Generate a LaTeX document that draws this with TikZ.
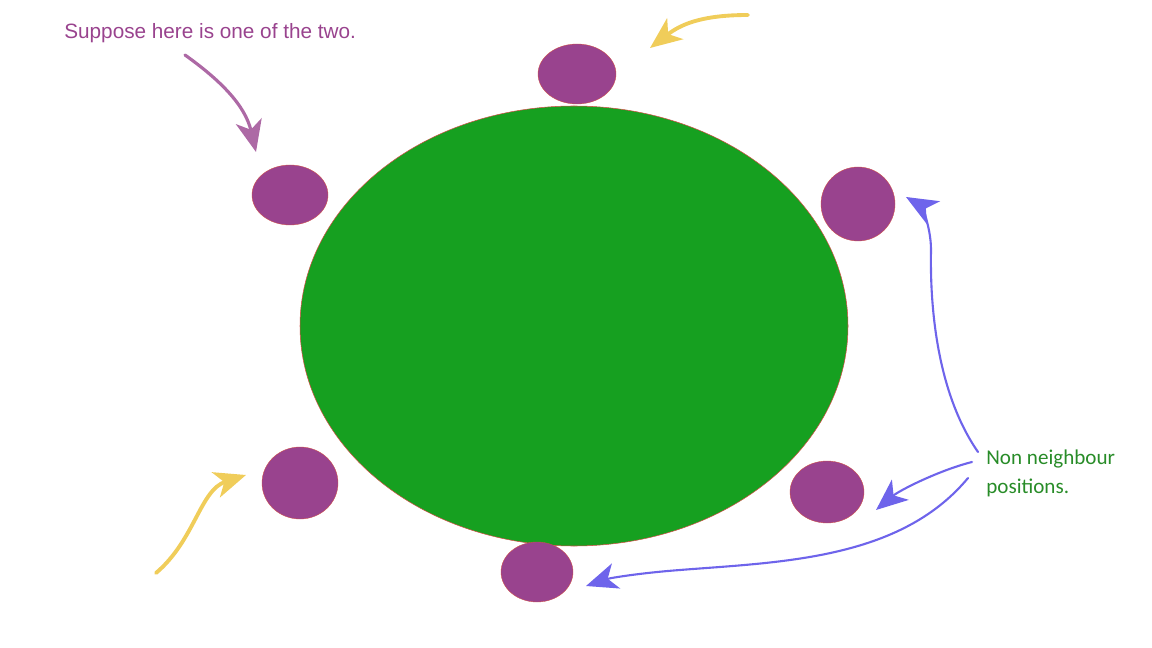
\documentclass[tikz,border=0pt]{standalone}
\usepackage{fontspec}
\setmainfont{Liberation Sans}
\newfontfamily\calib{Carlito}
\usetikzlibrary{arrows.meta,shapes.geometric}
\definecolor{seatpurple}{RGB}{153,67,142}
\definecolor{tablegreen}{RGB}{22,160,32}
\definecolor{edgered}{RGB}{210,80,70}
\definecolor{arrowyellow}{RGB}{240,205,90}
\definecolor{arrowblue}{RGB}{110,100,235}
\definecolor{textgreen}{RGB}{40,140,40}
\begin{document}
\begin{tikzpicture}[x=0.02cm,y=-0.02cm,
  seat/.style={ellipse, fill=seatpurple, draw=edgered, line width=0.2pt, inner sep=0pt},
  brush/.style={line width=1.8pt, line cap=round, -{Stealth[length=18pt,width=15pt,inset=5pt]}},
  yarrow/.style={brush, draw=arrowyellow, line width=2.2pt},
  barrow/.style={brush, draw=arrowblue, line width=1.2pt},
  parrow/.style={brush, draw=seatpurple!80}]
\useasboundingbox (0,0) rectangle (1152,648);
\node[ellipse, fill=tablegreen, draw=edgered, line width=0.3pt, inner sep=0pt, minimum width=548*0.02cm, minimum height=440*0.02cm] (table) at (574,326) {};
\foreach \n/\x/\y/\rx/\ry in {top/577/74/39/30, ul/290/195/38/30, ru/858/204/37/37, ll/300/483/38/36, rl/827/492/37/31, bot/537/572/36/30}{
  \node[seat, minimum width=2*\rx*0.02cm, minimum height=2*\ry*0.02cm] (\n) at (\x,\y) {};
}
\node[anchor=west, text=seatpurple, font=\fontsize{11.8}{14}\selectfont, inner sep=0pt] (note) at (64,33) {Suppose here is one of the two.};
\node[anchor=north west, text=textgreen, font=\calib\fontsize{12}{16}\selectfont, align=left, inner sep=0pt] (nonn) at (986,450) {Non neighbour\\positions.};
% free ends
\coordinate (p0) at (185,55); \coordinate (p1) at (256,152);
\coordinate (y0) at (748,15); \coordinate (y1) at (650,48);
\coordinate (z0) at (156,573); \coordinate (z1) at (246,475);
\coordinate (b0) at (978,452); \coordinate (b1) at (906,197);
\coordinate (c0) at (972,462); \coordinate (c1) at (876,510);
\coordinate (d0) at (968,478); \coordinate (d1) at (586,586);
\draw[parrow] (p0) .. controls (220,80) and (245,105) .. (p1);
\draw[yarrow] (y0) .. controls (700,15) and (680,25) .. (y1);
\draw[yarrow] (z0) .. controls (195,540) and (200,490) .. (z1);
\draw[barrow] (b0) .. controls (935,390) and (930,300) .. (931,250) .. controls (931,225) and (920,205) .. (b1);
\draw[barrow] (c0) .. controls (940,470) and (900,490) .. (c1);
\draw[barrow] (d0) .. controls (900,560) and (780,562) .. (680,570) .. controls (640,573) and (610,578) .. (d1);
\end{tikzpicture}
\end{document}
